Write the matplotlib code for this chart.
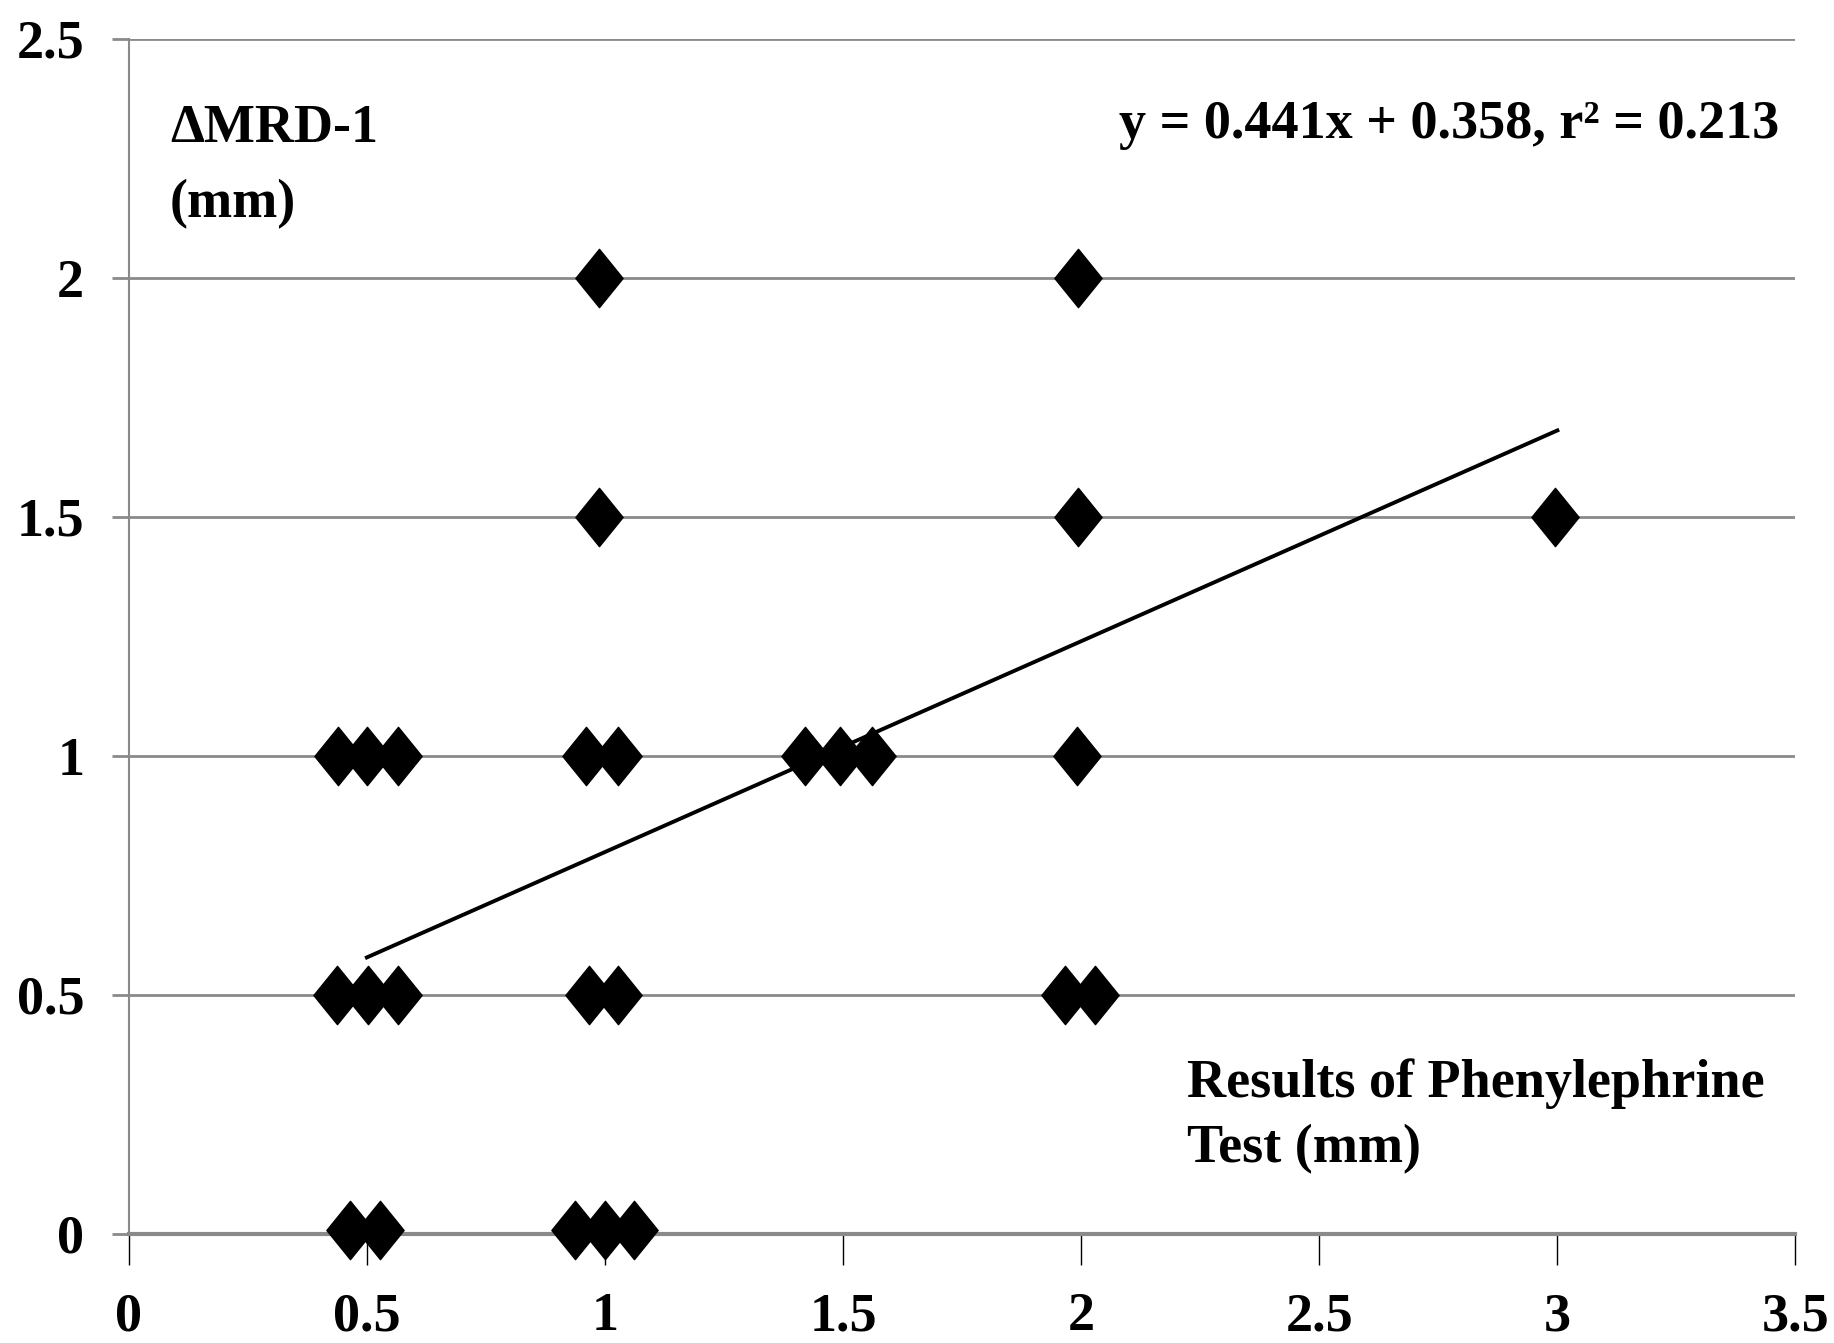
import numpy as np
import matplotlib.pyplot as plt
from matplotlib.path import Path

# puntos (x = fenilefrina, y = delta MRD-1)
x_vals = [0.987, 1.994,
          0.987, 1.994, 2.994,
          0.440, 0.500, 0.565, 0.961, 1.027, 1.420, 1.493, 1.561, 1.991,
          0.437, 0.502, 0.565, 0.967, 1.027, 1.966, 2.029,
          0.465, 0.528, 0.937, 1.000, 1.060]
y_vals = [2.0, 2.0,
          1.5, 1.5, 1.5,
          1.0, 1.0, 1.0, 1.0, 1.0, 1.0, 1.0, 1.0, 1.0,
          0.5, 0.5, 0.5, 0.5, 0.5, 0.5, 0.5,
          0.008, 0.008, 0.008, 0.008, 0.008]

# recta de regresion
slope = 0.441
intercept = 0.358
r2 = 0.213
fit_x = [0.5, 3.0]

x_ticks = [0, 0.5, 1, 1.5, 2, 2.5, 3, 3.5]
y_ticks = [0, 0.5, 1, 1.5, 2, 2.5]

plt.rcParams['font.family'] = ['Liberation Serif', 'DejaVu Serif']
plt.rcParams['font.weight'] = 'bold'
fs = 39

fig = plt.figure(figsize=(18.34, 13.43), dpi=100)
ax = fig.add_axes([0.0702, 0.0812, 0.9088, 0.8898])

# rombo un poco mas alto que ancho
diamond = Path([(0, 1), (0.81, 0), (0, -1), (-0.81, 0), (0, 1)],
               [Path.MOVETO, Path.LINETO, Path.LINETO, Path.LINETO, Path.CLOSEPOLY])

fit_y = [slope * v + intercept for v in fit_x]
ax.plot(fit_x, fit_y, color='black', lw=2.8, zorder=3)
ax.plot(x_vals, y_vals, linestyle='none', marker=diamond, ms=42,
        color='black', mec='black', clip_on=False, zorder=4)

ax.set_xlim(0, 3.5)
ax.set_ylim(0, 2.5)
ax.set_xticks(x_ticks)
ax.set_yticks(y_ticks)
ax.set_xticklabels([f'{t:g}' for t in x_ticks])
ax.set_yticklabels([f'{t:g}' for t in y_ticks])

grid_col = '#8a8a8a'
ax.grid(axis='y', color=grid_col, lw=2.0, zorder=0)
ax.set_axisbelow(True)
ax.spines['top'].set_visible(False)
ax.spines['right'].set_visible(False)
ax.spines['left'].set_color(grid_col)
ax.spines['left'].set_linewidth(1.5)
ax.spines['bottom'].set_color(grid_col)
ax.spines['bottom'].set_linewidth(3.0)

ax.tick_params(axis='x', direction='out', length=22, width=1.0, color='black',
               pad=20, labelsize=fs)
ax.tick_params(axis='y', direction='out', length=12, width=2.0, color=grid_col,
               pad=20, labelsize=fs)

ax.text(0.990, 2.293, f'y = {slope}x + {intercept}, r\u00b2 = {r2}',
        transform=ax.get_yaxis_transform(), ha='right', va='baseline',
        fontsize=fs, fontweight='bold')
ax.text(0.0248, 2.285, '\u0394MRD-1', transform=ax.get_yaxis_transform(),
        ha='left', va='baseline', fontsize=fs, fontweight='bold')
ax.text(0.0248, 2.126, '(mm)', transform=ax.get_yaxis_transform(),
        ha='left', va='baseline', fontsize=fs, fontweight='bold')
ax.text(2.222, 0.287, 'Results of Phenylephrine', ha='left', va='baseline',
        fontsize=fs, fontweight='bold')
ax.text(2.222, 0.151, 'Test (mm)', ha='left', va='baseline',
        fontsize=fs, fontweight='bold')

fig.savefig('out.png', dpi=100, facecolor='white')
